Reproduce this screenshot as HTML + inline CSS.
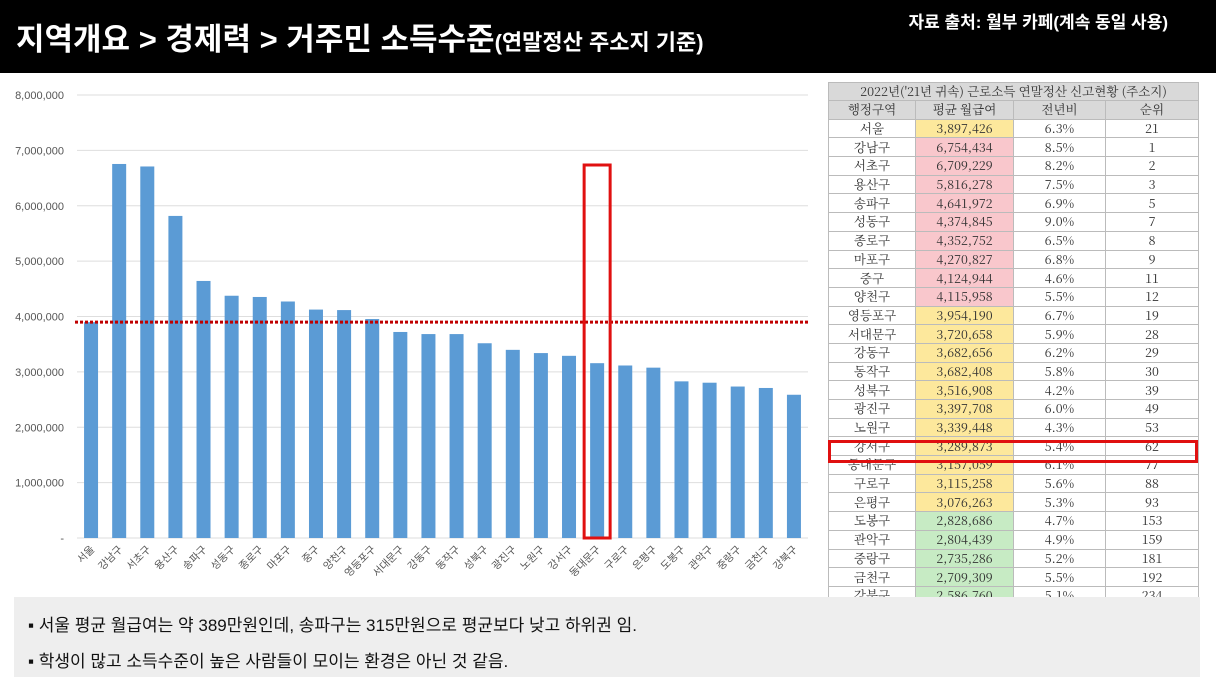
<!DOCTYPE html>
<html><head><meta charset="utf-8">
<style>
body{margin:0;width:1216px;height:684px;background:#fff;position:relative;overflow:hidden;font-family:"Liberation Sans","Noto Sans CJK KR",sans-serif}
#hdr{position:absolute;left:0;top:0;width:1216px;height:73px;background:#000}
#title{position:absolute;left:16px;top:14px;color:#fff;font-size:31px;font-weight:bold;white-space:nowrap}
#title small{font-size:22px}
#src{position:absolute;right:48px;top:8px;color:#fff;font-size:17px;font-weight:bold}
#tbl{position:absolute;left:828px;top:82px;width:370px;border-collapse:collapse;font-family:"Noto Serif CJK SC","Liberation Serif",serif;font-size:12.5px;color:#333;table-layout:fixed}
#tbl td{border:1px solid #bbb;text-align:center;padding:0;height:17.7px;line-height:17px;white-space:nowrap;overflow:hidden}
#tbl tr.t td{background:#d9d9d9;height:16px}
#tbl tr.h td{background:#d9d9d9}
.y{background:#fde89c}.p{background:#f9c7cc}.g{background:#c7ebc4}
#box{position:absolute;left:828px;top:440px;width:364px;height:17px;border:3px solid #e01010}
#note{position:absolute;left:14px;top:597px;width:1186px;height:80px;background:#eeeeee;font-size:17px;color:#111}
#note div{position:absolute;left:14px}
</style></head><body>
<div id="hdr"></div>
<div id="title">지역개요 &gt; 경제력 &gt; 거주민 소득수준<small>(연말정산 주소지 기준)</small></div>
<div id="src">자료 출처: 월부 카페(계속 동일 사용)</div>

<svg id="chart" width="825" height="520" style="position:absolute;left:0;top:75px" font-family="Liberation Sans, Noto Sans CJK KR, sans-serif"></svg>

<table id="tbl">
<colgroup><col style="width:87px"><col style="width:98px"><col style="width:92px"><col style="width:93px"></colgroup>
<tbody id="tb"></tbody></table>
<div id="box"></div>

<div id="note">
<div style="top:14px">▪ 서울 평균 월급여는 약 389만원인데, 송파구는 315만원으로 평균보다 낮고 하위권 임.</div>
<div style="top:50px">▪ 학생이 많고 소득수준이 높은 사람들이 모이는 환경은 아닌 것 같음.</div>
</div>

<script>
const categories=["서울","강남구","서초구","용산구","송파구","성동구","종로구","마포구","중구","양천구","영등포구","서대문구","강동구","동작구","성북구","광진구","노원구","강서구","동대문구","구로구","은평구","도봉구","관악구","중랑구","금천구","강북구"];
const values=[3897426,6754434,6709229,5816278,4641972,4374845,4352752,4270827,4124944,4115958,3954190,3720658,3682656,3682408,3516908,3397708,3339448,3289873,3157059,3115258,3076263,2828686,2804439,2735286,2709309,2586760];
const yoy=["6.3%","8.5%","8.2%","7.5%","6.9%","9.0%","6.5%","6.8%","4.6%","5.5%","6.7%","5.9%","6.2%","5.8%","4.2%","6.0%","4.3%","5.4%","6.1%","5.6%","5.3%","4.7%","4.9%","5.2%","5.5%","5.1%"];
const ranks=[21,1,2,3,5,7,8,9,11,12,19,28,29,30,39,49,53,62,77,88,93,153,159,181,192,234];
const chartCats=categories.filter(c=>c!=="중구"||true);
const yTicks=[0,1000000,2000000,3000000,4000000,5000000,6000000,7000000,8000000];
const avgValue=3897426;
const highlightIndex=18;

// Chart uses 25 bars (서울 + 24 districts shown); reference chart omits 중구 duplicate? keep first 25 excluding none
const barCats=["서울","강남구","서초구","용산구","송파구","성동구","종로구","마포구","중구","양천구","영등포구","서대문구","강동구","동작구","성북구","광진구","노원구","강서구","동대문구","구로구","은평구","도봉구","관악구","중랑구","금천구","강북구"];
const barVals=values;

const NS="http://www.w3.org/2000/svg";
const svg=document.getElementById('chart');
const x0=77,x1=808,yBase=463,yTop=20,yMax=8000000;
const yScale=v=>yBase-(v/yMax)*(yBase-yTop);
const n=barCats.length;
const step=(x1-x0)/n;
const xCenter=i=>x0+step*(i+0.5);
function mk(t,a){const e=document.createElementNS(NS,t);for(const k in a)e.setAttribute(k,a[k]);svg.appendChild(e);return e;}
yTicks.forEach(v=>{
  const y=yScale(v);
  const l=mk('line',{x1:x0,x2:x1,y1:y,y2:y,stroke:'#dedede','stroke-width':1});
  
  
  const t=mk('text',{x:64,y:y+4,'text-anchor':'end','font-size':11,fill:'#555'});
  t.textContent=v===0?'-':v.toLocaleString('en-US');
  
  
});
barVals.forEach((v,i)=>{
  const cx=xCenter(i),w=14;
  const r=mk('rect',{x:cx-w/2,y:yScale(v),width:w,height:yBase-yScale(v),fill:'#5b9bd5'});
  
  
  const t=mk('text',{x:0,y:0,'text-anchor':'end','font-size':10.5,fill:'#555',transform:`translate(${cx+4},${yBase+12}) rotate(-45)`});
  t.textContent=barCats[i];
  
  
});
const ya=yScale(avgValue);
const al=mk('line',{x1:x0-2,x2:x1,y1:ya,y2:ya,stroke:'#c00000','stroke-width':3,'stroke-dasharray':'3,2'});


const hx=xCenter(highlightIndex);
const hb=mk('rect',{x:hx-13,y:90,width:26,height:yBase-90,fill:'none',stroke:'#e01010','stroke-width':3});



const tb=document.getElementById('tb');
function row(cells,cls,name){const tr=document.createElement('tr');if(cls)tr.className=cls;cells.forEach(c=>{const td=document.createElement('td');td.textContent=c[0];if(c[1])td.className=c[1];if(c[2])td.colSpan=c[2];tr.appendChild(td);});tb.appendChild(tr);}
row([["2022년('21년 귀속) 근로소득 연말정산 신고현황 (주소지)","",4]],"t","table-title");
row([["행정구역"],["평균 월급여"],["전년비"],["순위"]],"h","table-header");
categories.forEach((c,i)=>{const v=values[i];const cl=(i===0||(v<4000000&&v>3000000))?'y':(v>=4000000?'p':'g');row([[c],[v.toLocaleString('en-US'),cl],[yoy[i]],[String(ranks[i])]],"","table-row");});
</script>
</body></html>
